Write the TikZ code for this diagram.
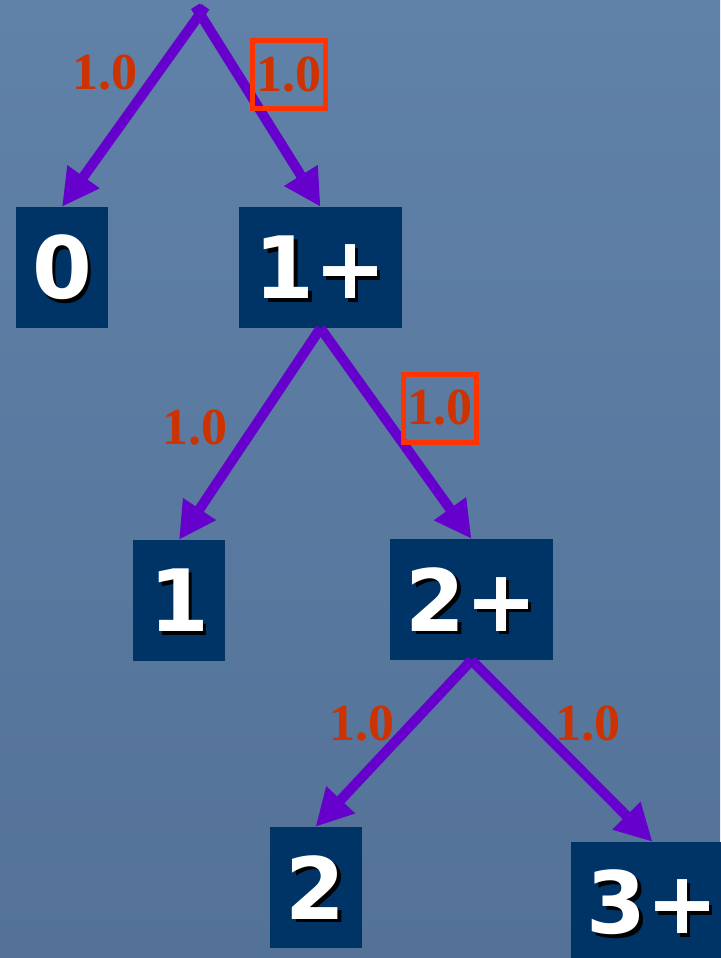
\documentclass[tikz,border=0pt]{standalone}
\usepackage{fontspec}
\usepackage{xcolor}
\usetikzlibrary{arrows.meta}
\newfontfamily\boxfont{DejaVu Sans}
\newfontfamily\wtfont{Liberation Serif}
\definecolor{bgtop}{RGB}{96,129,168}
\definecolor{bgbot}{RGB}{84,114,152}
\definecolor{boxblue}{RGB}{0,51,102}
\definecolor{arrpurple}{RGB}{102,0,204}
\definecolor{wtred}{RGB}{204,51,0}
\definecolor{markred}{RGB}{255,51,0}
% white box text with a dark drop shadow
\newcommand{\shd}[1]{\rlap{\smash{\kern3.5pt\raisebox{-3.5pt}{\color{black}#1}}}#1}

\begin{document}
\begin{tikzpicture}[x=1pt,y=-1pt,
 nb/.style={fill=boxblue,inner sep=0pt,minimum width=92pt,minimum height=121pt,text=white,font=\boxfont\bfseries\fontsize{86}{86}\selectfont},
 nbw/.style={nb,minimum width=163pt},
 w/.style={text=wtred,inner sep=0pt,font=\wtfont\bfseries\fontsize{52}{52}\selectfont},
 wm/.style={w,draw=markred,line width=5pt,minimum width=73pt,minimum height=68pt},
 ar/.style={-{Triangle[length=37pt,width=37pt]},line width=10pt,draw=arrpurple}]
\shade[top color=bgtop,bottom color=bgbot] (0,0) rectangle (720,958);
\useasboundingbox (0,0) rectangle (720,958);
\coordinate (root) at (200,14);
\node[nb] (n0) at (62,267.5) {\shd{0}};
\node[nbw] (n1p) at (320.5,267.5) {\shd{1+}};
\node[nb] (n1) at (179,600.5) {\shd{1}};
\node[nbw] (n2p) at (471.5,599.5) {\shd{2+}};
\node[nb] (n2) at (315.5,887.5) {\shd{2}};
\node[nbw] (n3p) at (652.5,902.5) {\shd{3+}};
\draw[ar,shorten <=-9pt] (root)--(n0.north); \draw[ar,shorten <=-9pt] (root)--(n1p.north);
\draw[ar] (n1p.south)--(n1.north); \draw[ar] (n1p.south)--(n2p.north);
\draw[ar] (n2p.south)--(n2.north); \draw[ar] (n2p.south)--(n3p.north);
\node[w] (w0) at (105,73) {1.0};
\node[wm] (w1p) at (289,74.5) {1.0};
\node[w] (w1) at (195,428) {1.0};
\node[wm] (w2p) at (440,408) {1.0};
\node[w] (w2) at (362,724) {1.0};
\node[w] (w3p) at (588,724) {1.0};
\end{tikzpicture}
\end{document}
